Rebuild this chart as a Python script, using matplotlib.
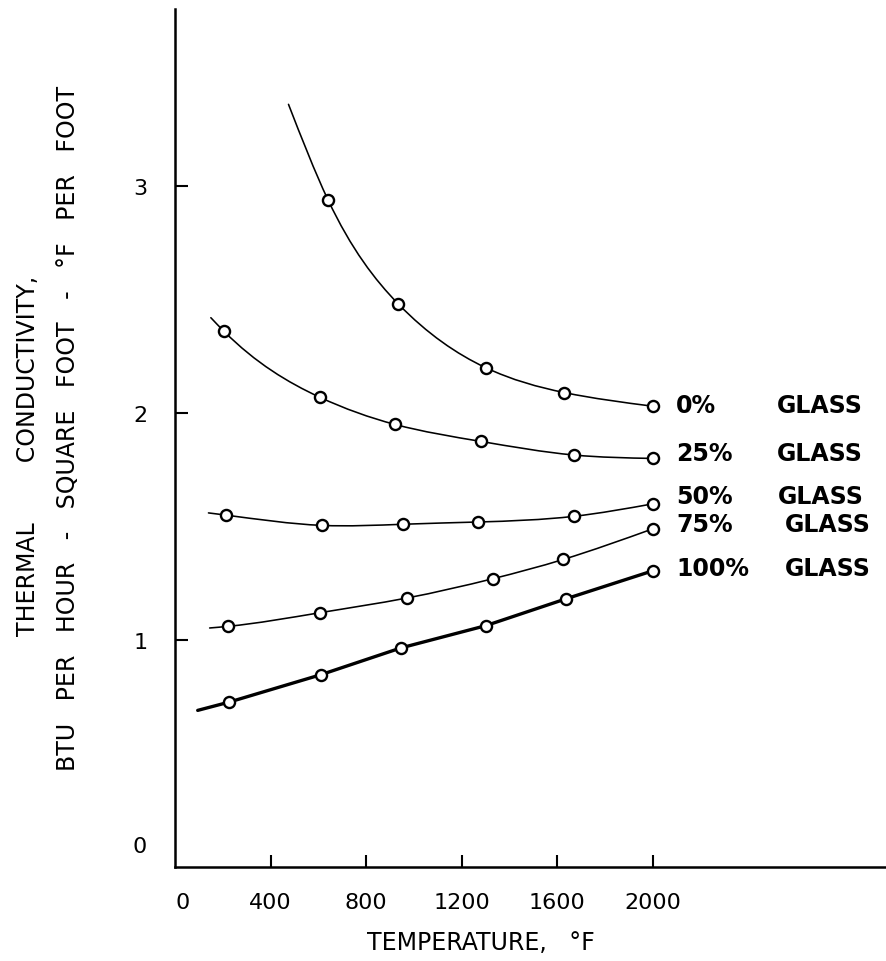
import numpy as np
import matplotlib
matplotlib.use("Agg")
import matplotlib.pyplot as plt
from matplotlib.path import Path
from matplotlib.patches import PathPatch

plt.rcParams['font.family'] = ['DejaVu Sans']

# ---- data ----
series_names = ["0%", "25%", "50%", "75%", "100%"]

temp_0 = [640, 935, 1300, 1630, 2000]
k_0 = [2.94, 2.48, 2.20, 2.09, 2.03]
start_0 = (475, 3.36)

temp_25 = [205, 605, 920, 1280, 1670, 2000]
k_25 = [2.36, 2.07, 1.95, 1.875, 1.815, 1.80]
start_25 = (150, 2.42)

temp_50 = [215, 615, 955, 1270, 1670, 2000]
k_50 = [1.55, 1.505, 1.51, 1.52, 1.545, 1.60]
start_50 = (140, 1.56)

temp_75 = [220, 605, 970, 1330, 1625, 2000]
k_75 = [1.06, 1.12, 1.185, 1.27, 1.355, 1.49]
start_75 = (145, 1.053)

temp_100 = [225, 610, 945, 1300, 1635, 2000]
k_100 = [0.726, 0.847, 0.965, 1.063, 1.181, 1.305]
start_100 = (95, 0.69)

x_ticks = [400, 800, 1200, 1600, 2000]
x_ticklabels = ["400", "800", "1200", "1600", "2000"]
y_ticks = [1, 2, 3]
y_ticklabels = ["1", "2", "3"]

# ---- figure ----
fig = plt.figure(figsize=(8.87, 9.62), dpi=100)
ax = fig.add_axes([175 / 887, 94 / 962, 712 / 887, 858 / 962])
ax.set_xlim(0, 2980)
ax.set_ylim(0, 3.78)

for s in ["top", "right"]:
    ax.spines[s].set_visible(False)
for s in ["left", "bottom"]:
    ax.spines[s].set_linewidth(1.8)


def spline_path(xs, ys):
    """Natural cubic spline through the points, drawn as Bezier segments."""
    x = np.asarray(xs, float)
    y = np.asarray(ys, float)
    n = len(x)
    h = np.diff(x)
    A = np.zeros((n, n))
    r = np.zeros(n)
    A[0, 0] = 1.0
    A[-1, -1] = 1.0
    for i in range(1, n - 1):
        A[i, i - 1] = h[i - 1]
        A[i, i] = 2 * (h[i - 1] + h[i])
        A[i, i + 1] = h[i]
        r[i] = 6 * ((y[i + 1] - y[i]) / h[i] - (y[i] - y[i - 1]) / h[i - 1])
    M = np.linalg.solve(A, r)
    d = np.zeros(n)
    for i in range(n - 1):
        d[i] = (y[i + 1] - y[i]) / h[i] - h[i] * (2 * M[i] + M[i + 1]) / 6
    d[-1] = (y[-1] - y[-2]) / h[-1] + h[-1] * (M[-2] + 2 * M[-1]) / 6
    verts = [(x[0], y[0])]
    codes = [Path.MOVETO]
    for i in range(n - 1):
        c1 = (x[i] + h[i] / 3, y[i] + d[i] * h[i] / 3)
        c2 = (x[i + 1] - h[i] / 3, y[i + 1] - d[i + 1] * h[i] / 3)
        verts += [c1, c2, (x[i + 1], y[i + 1])]
        codes += [Path.CURVE4] * 3
    return Path(verts, codes)


all_series = [
    (temp_0, k_0, start_0, 1.15, True),
    (temp_25, k_25, start_25, 1.15, True),
    (temp_50, k_50, start_50, 1.15, True),
    (temp_75, k_75, start_75, 1.15, True),
    (temp_100, k_100, start_100, 2.4, False),
]

for temps, ks, start, lw, smooth in all_series:
    xs = [start[0]] + list(temps)
    ys = [start[1]] + list(ks)
    if smooth:
        ax.add_patch(PathPatch(spline_path(xs, ys), facecolor="none",
                               edgecolor="black", lw=lw, zorder=2,
                               capstyle="round"))
    else:
        ax.plot(xs, ys, color="black", lw=lw, zorder=2,
                solid_capstyle="round")
    ax.plot(temps, ks, linestyle="none", marker="o", markersize=8,
            markerfacecolor="white", markeredgecolor="black",
            markeredgewidth=1.7, zorder=3)

# ticks
ax.set_xticks(x_ticks)
ax.set_xticklabels(x_ticklabels)
ax.set_yticks(y_ticks)
ax.set_yticklabels(y_ticklabels)
ax.tick_params(axis="x", direction="in", length=9, width=1.5, pad=18,
               labelsize=16)
ax.tick_params(axis="y", direction="in", length=9, width=1.5, pad=20,
               labelsize=16)

# zero labels
ax.annotate("0", xy=(0, 0.093), xycoords=ax.get_yaxis_transform(),
            xytext=(-20, 0), textcoords="offset points",
            ha="right", va="center", fontsize=16)
ax.annotate("0", xy=(30, 0), xycoords=ax.get_xaxis_transform(),
            xytext=(0, -18), textcoords="offset points",
            ha="center", va="top", fontsize=16)

# axis labels
fig.text(481 / 887, 1 - 943 / 962, "TEMPERATURE,   °F", ha="center",
         va="center", fontsize=17)
fig.text(28 / 887, 1 - 456 / 962, "THERMAL        CONDUCTIVITY,",
         rotation=90, ha="center", va="center", fontsize=17)
fig.text(68 / 887, 1 - 428 / 962,
         "BTU   PER   HOUR   -   SQUARE   FOOT   -   °F   PER   FOOT",
         rotation=90, ha="center", va="center", fontsize=17)

# series labels
label_y = [2.035, 1.824, 1.634, 1.511, 1.317]
glass_x = [2521, 2521, 2525, 2554, 2554]
for name, ly, gx in zip(series_names, label_y, glass_x):
    ax.text(2098, ly, name, ha="left", va="center", fontsize=17,
            fontweight="bold")
    ax.text(gx, ly, "GLASS", ha="left", va="center", fontsize=17,
            fontweight="bold")

fig.savefig("out.png", dpi=100)
